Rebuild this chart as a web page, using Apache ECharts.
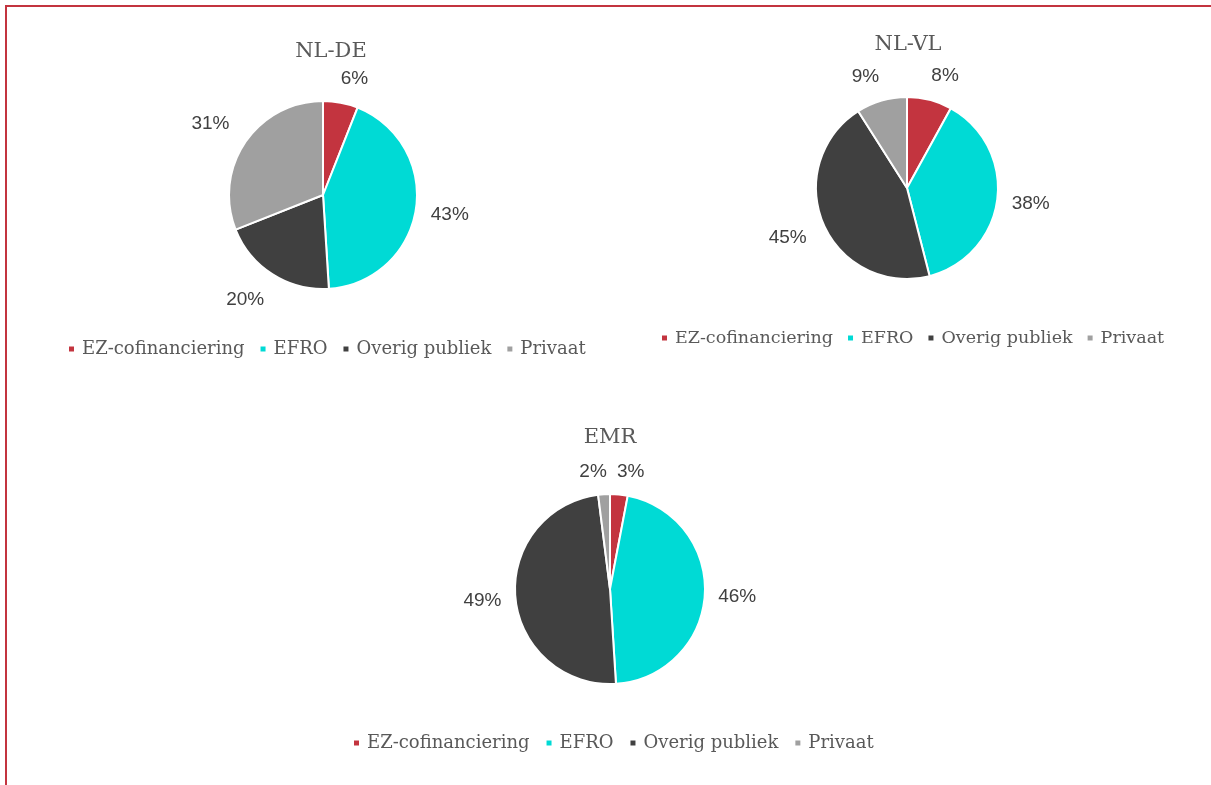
<!DOCTYPE html>
<html>
<head>
<meta charset="utf-8">
<script src="https://cdn.jsdelivr.net/npm/echarts@6/dist/echarts.min.js"></script>
<style>
html, body { margin:0; padding:0; background:#fff; }
#frame {
    position:absolute; left:5px; top:5px; width:1206px; height:780px;
    border-top:2px solid #c3343f; border-left:2px solid #c3343f;
}
#main { position:absolute; left:0; top:0; width:1211px; height:785px; }
</style>
</head>
<body>
<div id="frame"></div>
<div id="main"></div>
<script>
// categories + values (percent)
var categories = ['EZ-cofinanciering', 'EFRO', 'Overig publiek', 'Privaat'];
var colors = ['#c3343f', '#00dad5', '#404040', '#a0a0a0'];
var nlDe = [6, 43, 20, 31];
var nlVl = [8, 38, 45, 9];
var emr  = [3, 46, 49, 2];

function toData(vals){
    return categories.map(function(c, i){ return { name: c, value: vals[i] }; });
}

// excel-like "outside end": label box just past the edge along the radial line,
// nudged sideways for labels above/below the pie
function outsideEnd(params){
    var pts = params.labelLinePoints;
    if(!pts || pts.length < 2) return {};
    var dx = pts[1][0] - pts[0][0], dy = pts[1][1] - pts[0][1];
    var len = Math.sqrt(dx * dx + dy * dy) || 1;
    var ux = dx / len, uy = dy / len;
    var w = params.labelRect.width, h = params.labelRect.height;
    var d = 12 + Math.abs(ux) * w / 2 + Math.abs(uy) * h / 2;
    var side = (ux >= 0 ? 1 : -1) * 0.7 * Math.abs(uy) * w / 2;
    return {
        x: pts[0][0] + ux * d + side,
        y: pts[0][1] + uy * d,
        align: 'center',
        verticalAlign: 'middle'
    };
}

function pie(name, vals, center, radius){
    return {
        name: name,
        type: 'pie',
        center: center,
        radius: radius,
        startAngle: 90,
        clockwise: true,
        avoidLabelOverlap: false,
        itemStyle: { borderColor: '#fff', borderWidth: 2 },
        label: {
            position: 'outside',
            formatter: '{c}%',
            fontFamily: '"Liberation Sans", Arial, sans-serif',
            fontSize: 19,
            color: '#404040'
        },
        labelLine: { show: true, length: 12, length2: 0, lineStyle: { opacity: 0 } },
        labelLayout: outsideEnd,
        emphasis: { scale: false },
        data: toData(vals)
    };
}

var titleStyle = { fontFamily: '"DejaVu Serif", serif', fontSize: 21, fontWeight: 'normal', color: '#595959' };

function legend(left, top, size, gap){
    return {
        data: categories,
        left: left,
        top: top,
        icon: 'rect',
        itemWidth: 7,
        itemHeight: 7,
        itemGap: gap,
        textStyle: { fontFamily: '"DejaVu Serif", serif', fontSize: size, color: '#595959', padding: [0, 0, 0, 2] }
    };
}

var chart = echarts.init(document.getElementById('main'));
chart.setOption({
    color: colors,
    animation: false,
    title: [
        { text: 'NL-DE', left: 326, top: 36, textAlign: 'center', textStyle: titleStyle },
        { text: 'NL-VL', left: 903, top: 29, textAlign: 'center', textStyle: titleStyle },
        { text: 'EMR',   left: 605, top: 422, textAlign: 'center', textStyle: titleStyle }
    ],
    legend: [
        legend(62, 335, 18, 14),
        legend(655, 324, 17.5, 13),
        legend(347, 729, 18, 15)
    ],
    series: [
        pie('NL-DE', nlDe, [323, 195], 94),
        pie('NL-VL', nlVl, [907, 188], 91),
        pie('EMR', emr, [610, 589], 95)
    ]
});
</script>
</body>
</html>
